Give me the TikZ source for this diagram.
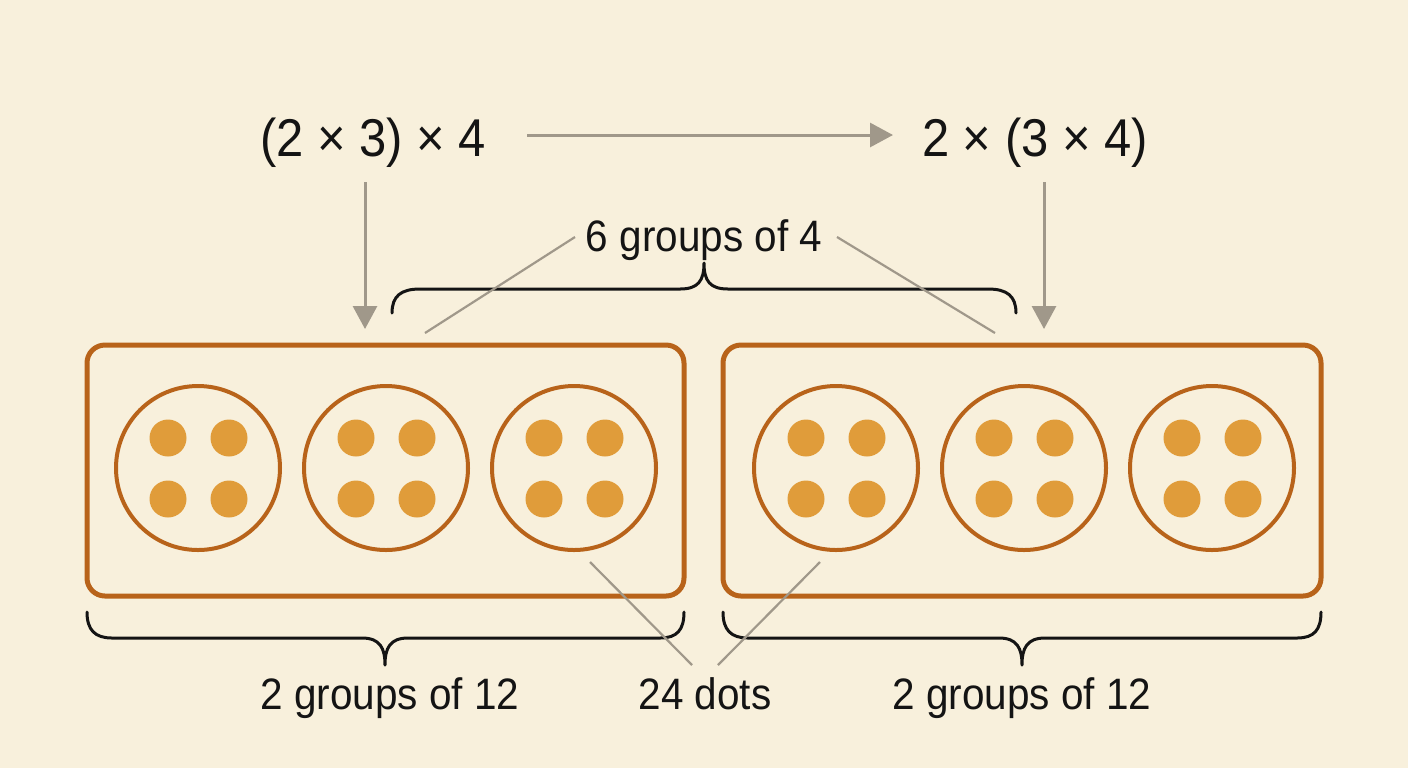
\documentclass[tikz,border=0pt]{standalone}
\usepackage{fontspec}
\setmainfont{Liberation Sans}[FakeStretch=0.92]
\usetikzlibrary{arrows.meta}
\definecolor{bg}{HTML}{F8F0DC}
\definecolor{boxc}{HTML}{B8631A}
\definecolor{dotc}{HTML}{E09C3A}
\definecolor{greyc}{HTML}{A0988A}
\definecolor{txt}{HTML}{141414}
\tikzset{
  expr/.style={anchor=base, text=txt, inner sep=0pt, font=\fontsize{26.6}{31}\selectfont},
  lab/.style={anchor=base, text=txt, inner sep=0pt, font=\fontsize{22}{26}\selectfont},
  bigbox/.style={draw=boxc, line width=2.5pt, rounded corners=9pt, minimum height=125.5pt, inner sep=0pt},
  grp/.style={circle, draw=boxc, line width=2pt, minimum size=82pt, inner sep=0pt},
  dotn/.style={circle, fill=dotc, minimum size=18.5pt, inner sep=0pt},
  garrow/.style={draw=greyc, line width=1.5pt, -{Triangle[length=11.5pt,width=12pt]}},
  gline/.style={draw=greyc, line width=1.1pt},
  brace/.style={draw=txt, line width=1.5pt, line cap=round, line join=round}
}
\begin{document}
\begin{tikzpicture}[x=0.5pt,y=-0.5pt]
\fill[bg] (0,0) rectangle (1408,768);
\useasboundingbox (0,0) rectangle (1408,768);

% expressions
\node[expr] (e1) at (373,156) {(2 × 3) × 4};
\node[expr] (e2) at (1035,156) {2 × (3 × 4)};

\coordinate (h1) at (527,135);
\coordinate (h2) at (893,135);
\draw[garrow] (h1) -- (h2);

\coordinate (l1) at (365,182);
\coordinate (l2) at (365,329);
\draw[garrow] (l1) -- (l2);
\coordinate (r1) at (1044,182);
\coordinate (r2) at (1044,329);
\draw[garrow] (r1) -- (r2);

% top label and brace
\node[lab] (six) at (704,251) {6 groups of 4};
\draw[brace] (392,313) .. controls (392,296) and (401,289) .. (420,289) -- (680,289)
  .. controls (698,289) and (704,281) .. (704,263)
  .. controls (704,281) and (710,289) .. (728,289) -- (988,289)
  .. controls (1007,289) and (1016,296) .. (1016,313);
\coordinate (s1) at (575,237);
\coordinate (s1e) at (425,333);
\coordinate (s2) at (837,237);
\coordinate (s2e) at (995,333);
\draw[gline] (s1) -- (s1e);
\draw[gline] (s2) -- (s2e);

% boxes
\node[bigbox, minimum width=298.5pt] (boxL) at (385.5,470.5) {};
\node[bigbox, minimum width=299pt] (boxR) at (1022,470.5) {};

% circles and dots
\foreach \n/\cx in {1/198,2/386,3/574,4/836,5/1024,6/1212}{
  \node[grp] (c\n) at (\cx,468) {};
  \node[dotn] (d\n a) at ({\cx-30},438) {};
  \node[dotn] (d\n b) at ({\cx+31},438) {};
  \node[dotn] (d\n c) at ({\cx-30},499) {};
  \node[dotn] (d\n d) at ({\cx+31},499) {};
}

% bottom braces
\draw[brace] (87,612) .. controls (87,630) and (95,638) .. (112,638) -- (362,638)
  .. controls (380,638) and (385,648) .. (385,665)
  .. controls (385,648) and (390,638) .. (408,638) -- (660,638)
  .. controls (677,638) and (684,630) .. (684,612);
\draw[brace] (723,612) .. controls (723,630) and (731,638) .. (748,638) -- (999,638)
  .. controls (1017,638) and (1022,648) .. (1022,665)
  .. controls (1022,648) and (1027,638) .. (1045,638) -- (1297,638)
  .. controls (1314,638) and (1321,630) .. (1321,612);

% bottom labels
\node[lab] (gL) at (390,709) {2 groups of 12};
\node[lab] (dots) at (705,709) {24 dots};
\node[lab] (gR) at (1022,709) {2 groups of 12};

\coordinate (t1) at (692,665);
\coordinate (t1e) at (590,562);
\coordinate (t2) at (718,665);
\coordinate (t2e) at (820,562);
\draw[gline] (t1) -- (t1e);
\draw[gline] (t2) -- (t2e);
\end{tikzpicture}
\end{document}
